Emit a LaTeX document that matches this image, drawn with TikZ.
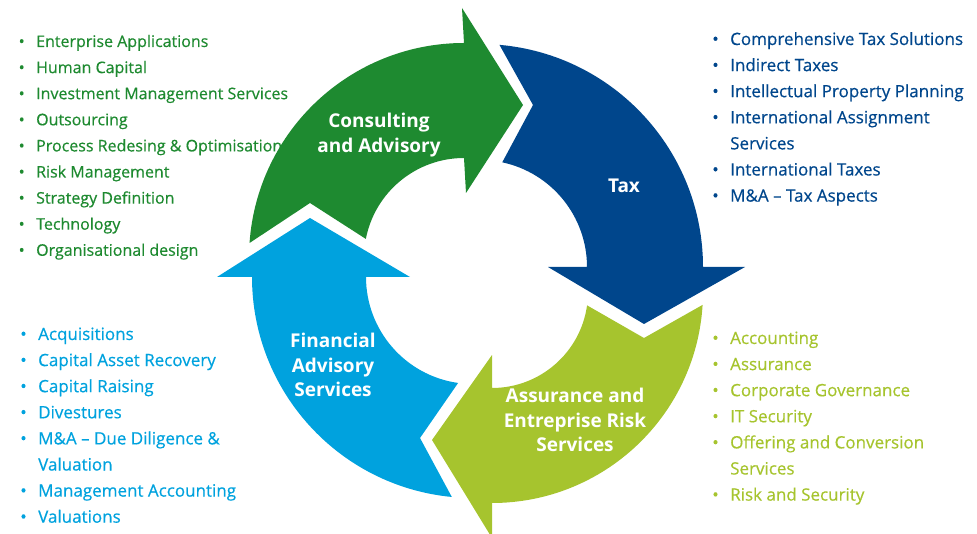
\documentclass[tikz,border=0pt]{standalone}
\usepackage{fontspec}
\setmainfont{Open Sans}
\newfontfamily\listfont{Open Sans}[Ligatures=TeX, FakeBold=0.5]
\usetikzlibrary{calc}

\definecolor{cgreen}{RGB}{30,138,48}
\definecolor{cblue}{RGB}{0,70,140}
\definecolor{clgreen}{RGB}{166,196,46}
\definecolor{clblue}{RGB}{0,162,222}

% bullet hanging to the left of a list line
\newcommand\bu{\llap{\textbullet\hspace{11.5bp}}}

\begin{document}
\begin{tikzpicture}[x=1bp,y=1bp,
  arrowtext/.style={text=white, inner sep=0pt, align=center,
    font=\fontsize{19bp}{24.5bp}\selectfont\bfseries},
  item/.style={anchor=base west, inner sep=0pt,
    font=\listfont\fontsize{17bp}{26bp}\selectfont},
  smallitem/.style={item, font=\listfont\fontsize{16bp}{26bp}\selectfont}]
\useasboundingbox (0,0) rectangle (977,-534);
\clip (0,0) rectangle (977,-534);

% centres of the four curved bands
\coordinate (G) at (464,-258);
\coordinate (B) at (480,-267);
\coordinate (L) at (492,-292);
\coordinate (C) at (473,-277);

% Consulting and Advisory
\fill[cgreen] ($(G)+(176:215)$) arc[start angle=176, end angle=90, radius=215]
  -- (462,-8) -- (523,-105) -- (466,-193) -- (464,-158)
  arc[start angle=90, end angle=169, radius=100] -- (310,-203) -- cycle;
% Tax
\fill[cblue] ($(B)+(85:223)$) arc[start angle=85, end angle=0, radius=223]
  -- (745,-267) -- (644,-324) -- (548,-267) -- (587,-267)
  arc[start angle=0, end angle=78, radius=107] -- (533,-105) -- cycle;
% Assurance and Entreprise Risk Services
\fill[clgreen] ($(L)+(-3.5:211)$) arc[start angle=-3.5, end angle=-90, radius=211]
  -- (492,-538) -- (432,-440) -- (492,-355) -- (492,-388)
  arc[start angle=-90, end angle=-8, radius=96] -- (644,-338) -- cycle;
% Financial Advisory Services
\fill[clblue] ($(C)+(264.5:221)$) arc[start angle=264.5, end angle=180, radius=221]
  -- (217,-277) -- (310,-218) -- (410,-277) -- (366,-277)
  arc[start angle=180, end angle=262, radius=107] -- (420,-438) -- cycle;

% band titles
\node[arrowtext] (consult) at (379,-135) {Consulting\\and Advisory};
\node[arrowtext] (tax) at (624,-186) {Tax};
\node[arrowtext] (assur) at (575,-420) {Assurance and\\Entreprise Risk\\Services};
\node[arrowtext] (fin) at (333,-365) {Financial\\Advisory\\Services};

% service lists
\foreach \t [count=\i] in {Enterprise Applications, Human Capital,
    Investment Management Services, Outsourcing,
    Process Redesing \& Optimisation, Risk Management,
    Strategy Definition, Technology, Organisational design}
  \node[smallitem, text=cgreen] (cons\i) at (36,{-47-(\i-1)*26.1}) {\bu\t};

\foreach \t [count=\i] in {\bu Comprehensive Tax Solutions, \bu Indirect Taxes,
    \bu Intellectual Property Planning, \bu International Assignment,
    Services, \bu International Taxes, \bu M\&A – Tax Aspects}
  \node[item, text=cblue] (taxl\i) at (730,{-45-(\i-1)*26.1}) {\t};

\foreach \t [count=\i] in {\bu Accounting, \bu Assurance,
    \bu Corporate Governance, \bu IT Security,
    \bu Offering and Conversion, Services, \bu Risk and Security}
  \node[item, text=clgreen] (assl\i) at (730,{-344-(\i-1)*26.1}) {\t};

\foreach \t [count=\i] in {\bu Acquisitions, \bu Capital Asset Recovery,
    \bu Capital Raising, \bu Divestures,
    \bu M\&A – Due Diligence \&, Valuation,
    \bu Management Accounting, \bu Valuations}
  \node[item, text=clblue] (finl\i) at (38,{-340-(\i-1)*26.1}) {\t};
\end{tikzpicture}
\end{document}
